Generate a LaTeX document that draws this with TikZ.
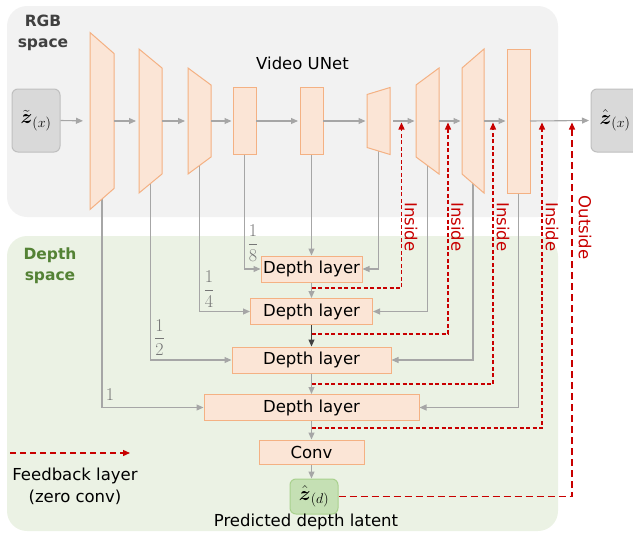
\RequirePackage{fix-cm}
\documentclass[tikz,border=0pt]{standalone}
\usepackage{amsmath}
\usepackage[no-math]{fontspec}
\setmainfont{DejaVu Sans}
\usetikzlibrary{arrows.meta}

\definecolor{rgbbg}{RGB}{242,242,242}
\definecolor{depthbg}{RGB}{235,242,228}
\definecolor{blockfill}{RGB}{251,229,214}
\definecolor{blockline}{RGB}{244,177,131}
\definecolor{latfill}{RGB}{217,217,217}
\definecolor{latline}{RGB}{191,191,191}
\definecolor{dfill}{RGB}{197,224,180}
\definecolor{dline}{RGB}{169,209,142}
\definecolor{wire}{RGB}{166,166,166}
\definecolor{darkwire}{RGB}{64,64,64}
\definecolor{fbred}{RGB}{200,0,0}
\definecolor{spacegreen}{RGB}{84,130,53}
\definecolor{spacegray}{RGB}{64,64,64}
\definecolor{fracgray}{RGB}{118,118,118}

\newcommand\txtfont{\fontsize{16.5}{20}\selectfont}
\newcommand\mathfont{\fontsize{20}{24}\selectfont}
\newcommand\fracfont{\fontsize{18}{20}\selectfont}

\pgfdeclarelayer{regions}
\pgfdeclarelayer{wires}
\pgfsetlayers{regions,wires,main}

% one UNet stage: name, left x, right x, left half-height, right half-height
\newcommand\unetblock[5]{%
  \draw[block] (#2,121-#4) -- (#3,121-#5) -- (#3,121+#5) -- (#2,121+#4) -- cycle;
  \coordinate (#1w) at (#2,121);
  \coordinate (#1e) at (#3,121);
}

\tikzset{
  block/.style={draw=blockline, fill=blockfill, line width=1pt},
  layerbox/.style={block, minimum height=26pt, inner sep=0pt, font=\txtfont},
  latent/.style={rounded corners=6pt, draw=latline, fill=latfill, line width=1pt,
    minimum width=48pt, minimum height=63pt, inner sep=0pt, font=\mathfont},
  wirearrow/.style={draw=wire, line width=1.1pt, -{Triangle[length=7pt,width=6pt]}},
  feedback/.style={draw=fbred, line width=1.3pt, dash pattern=on 4pt off 2.5pt,
    -{Triangle[length=7pt,width=6pt]}},
  feedbacklong/.style={feedback, dash pattern=on 7pt off 4pt},
  fblabel/.style={text=fbred, font=\txtfont, rotate=-90, inner sep=0pt},
  fraclabel/.style={text=fracgray, font=\fracfont, inner sep=0pt},
  plain/.style={font=\txtfont, inner sep=0pt},
}

\begin{document}
\begin{tikzpicture}[x=1pt, y=-1pt]
\useasboundingbox (0,0) rectangle (633,533);

% the two spaces
\begin{pgfonlayer}{regions}
  \fill[rgbbg, rounded corners=20pt] (7,6) rectangle (558,217);
  \fill[depthbg, rounded corners=20pt] (7,236) rectangle (558,531);
\end{pgfonlayer}

\node[text=spacegray, font=\fontsize{15.5}{21}\selectfont\bfseries, align=center, inner sep=0pt]
  (rgblabel) at (43,32.5) {RGB\\space};
\node[text=spacegreen, font=\fontsize{15.5}{21}\selectfont\bfseries, align=center, inner sep=0pt]
  (depthlabel) at (50,266) {Depth\\space};
\node[plain] (unetlabel) at (302.5,63) {Video UNet};

% latents
\node[latent] (zin) at (36,120.5) {$\tilde{\boldsymbol{z}}_{(x)}$};
\node[latent] (zout) at (615,120.5) {$\hat{\boldsymbol{z}}_{(x)}$};

% UNet stages
\unetblock{e1}{90}{114}{88.5}{67.5}
\unetblock{e2}{139}{162}{72}{53}
\unetblock{e3}{188}{211}{53}{36}
\unetblock{e4}{233}{256}{33.5}{33.5}
\unetblock{mid}{300}{323}{33.5}{33.5}
\unetblock{d1}{367}{390}{26.5}{33.5}
\unetblock{d2}{416}{439}{36}{53}
\unetblock{d3}{462}{484}{53}{72}
\unetblock{d4}{507}{530}{72}{72}
\coordinate (e1) at (102,121);
\coordinate (e2) at (150.5,121);
\coordinate (e3) at (199.5,121);
\coordinate (e4) at (244.5,121);
\coordinate (mid) at (311.5,121);
\coordinate (d1) at (378.5,121);
\coordinate (d2) at (427.5,121);
\coordinate (d3) at (473,121);
\coordinate (d4) at (518.5,121);

% depth branch
\node[layerbox, minimum width=101pt] (dl1) at (311.5,269) {Depth layer};
\node[layerbox, minimum width=122pt] (dl2) at (311.5,311.5) {Depth layer};
\node[layerbox, minimum width=159pt] (dl3) at (311.5,360) {Depth layer};
\node[layerbox, minimum width=215pt] (dl4) at (311.5,407.5) {Depth layer};
\node[layerbox, minimum width=105pt, minimum height=24pt] (conv) at (311.5,452) {Conv};
\node[latent, draw=dline, fill=dfill, minimum height=35pt] (zd) at (314,496.5) {$\hat{\boldsymbol{z}}_{(d)}$};
\node[plain] (zdlabel) at (306,522) {Predicted depth latent};

% main UNet path
\draw[wirearrow, shorten >=7pt] (zin.east) -- (e1w);
\draw[wirearrow, shorten >=3pt] (e1e) -- (e2w);
\draw[wirearrow, shorten >=3pt] (e2e) -- (e3w);
\draw[wirearrow, shorten >=1.5pt] (e3e) -- (e4w);
\draw[wirearrow, shorten >=2pt] (e4e) -- (midw);
\draw[wirearrow, shorten >=1.5pt] (mide) -- (d1w);
\draw[wirearrow, shorten >=1.5pt, shorten <=3pt] (d1e) -- (d2w);
\draw[wirearrow, shorten >=1.5pt] (d2e) -- (d3w);
\draw[wirearrow, shorten >=1.5pt] (d3e) -- (d4w);
\draw[wirearrow, shorten >=1.5pt] (d4e) -- (zout.west);

% taps from the UNet into the depth layers
\begin{pgfonlayer}{wires}
  \draw[wirearrow] (e1) |- (dl4.west);
  \draw[wirearrow] (e2) |- (dl3.west);
  \draw[wirearrow] (e3) |- (dl2.west);
  \draw[wirearrow] (e4) |- (dl1.west);
  \draw[wirearrow] (mid) -- (dl1.north);
  \draw[wirearrow] (d1) |- (dl1.east);
  \draw[wirearrow] (d2) |- (dl2.east);
  \draw[wirearrow] (d3) |- (dl3.east);
  \draw[wirearrow] (d4) |- (dl4.east);
\end{pgfonlayer}

% resolution factors
\node[fraclabel] (f8) at (253,243) {$\displaystyle\frac{1}{8}$};
\node[fraclabel] (f4) at (209,289) {$\displaystyle\frac{1}{4}$};
\node[fraclabel] (f2) at (159.5,337.5) {$\displaystyle\frac{1}{2}$};
\node[fraclabel] (f1) at (110,395) {$1$};

% depth column
\draw[wirearrow] (dl1.south) -- (dl2.north);
\draw[wirearrow, draw=darkwire] (dl2.south) -- (dl3.north);
\draw[wirearrow] (dl3.south) -- (dl4.north);
\draw[wirearrow] (dl4.south) -- (conv.north);
\draw[wirearrow] (conv.south) -- (conv.south |- zd.north);

% feedback layers
\coordinate (fb1) at (311.5,288);
\coordinate (fb2) at (311.5,334);
\coordinate (fb3) at (311.5,384);
\coordinate (fb4) at (311.5,428);
\coordinate (tip1) at (401.5,122.5);
\coordinate (tip2) at (448,122.5);
\coordinate (tip3) at (493,122.5);
\coordinate (tip4) at (542,122.5);
\coordinate (tip5) at (572,122.5);
\draw[feedback] (fb1) -| (tip1);
\draw[feedback] (fb2) -| (tip2);
\draw[feedback] (fb3) -| (tip3);
\draw[feedback] (fb4) -| (tip4);
\draw[feedbacklong] (zd.east) -| (tip5);
\node[fblabel] (in1) at (411,227) {Inside};
\node[fblabel] (in2) at (457.5,227) {Inside};
\node[fblabel] (in3) at (503,227) {Inside};
\node[fblabel] (in4) at (552,227) {Inside};
\node[fblabel] (outl) at (585,227.5) {Outside};

% legend
\coordinate (leg1) at (10,453);
\coordinate (leg2) at (130,453);
\draw[feedbacklong, dash pattern=on 6pt off 4pt] (leg1) -- (leg2);
\node[plain, align=center, font=\fontsize{16.5}{22}\selectfont] (legtext) at (75,486) {Feedback layer\\(zero conv)};
\end{tikzpicture}
\end{document}
